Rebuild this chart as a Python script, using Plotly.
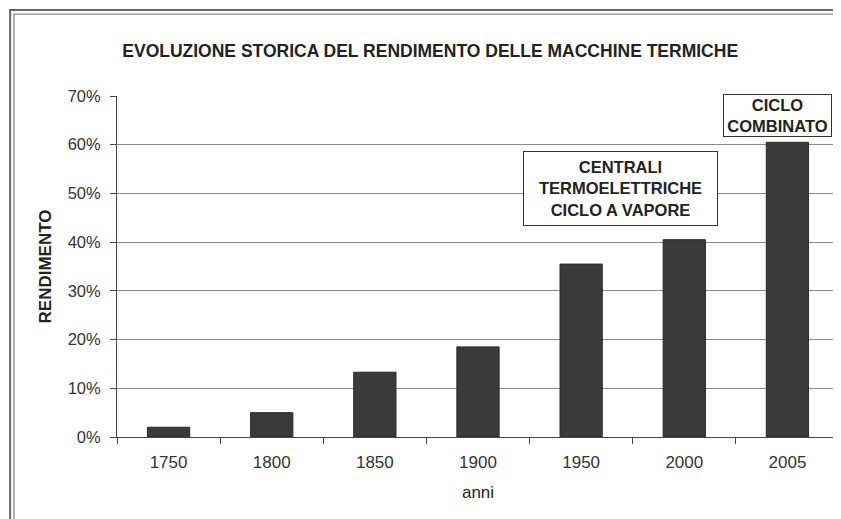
import plotly.graph_objects as go

anni = ["1750", "1800", "1850", "1900", "1950", "2000", "2005"]
rendimento = [0.02, 0.05, 0.133, 0.185, 0.355, 0.405, 0.605]
tick_vals = [0, 0.1, 0.2, 0.3, 0.4, 0.5, 0.6, 0.7]
tick_text = ["0%", "10%", "20%", "30%", "40%", "50%", "60%", "70%"]

font_family = "Liberation Sans, Arial, sans-serif"

fig = go.Figure()
fig.add_trace(go.Bar(
    x=anni, y=rendimento,
    marker=dict(color="#3a3a3a", line=dict(color="#2a2a2a", width=1)),
    hoverinfo="x+y"
))

# outer frame of the chart (double line)
fig.add_shape(type="rect", xref="paper", yref="paper",
              x0=-0.148, x1=1.05, y0=-0.35, y1=1.252,
              line=dict(color="#666666", width=2), fillcolor="rgba(0,0,0,0)",
              layer="below")
fig.add_shape(type="rect", xref="paper", yref="paper",
              x0=-0.1427, x1=1.05, y0=-0.35, y1=1.240,
              line=dict(color="#9a9a9a", width=1.5), fillcolor="rgba(0,0,0,0)",
              layer="below")

fig.add_annotation(
    x=0.697, y=0.729, xref="paper", yref="paper",
    xanchor="center", yanchor="middle",
    text="<b>CENTRALI<br>TERMOELETTRICHE<br>CICLO A VAPORE</b>",
    showarrow=False, align="center",
    font=dict(family=font_family, size=16.5, color="#222222"),
    width=183, height=63,
    bgcolor="white", bordercolor="#333333", borderwidth=1, borderpad=5
)
fig.add_annotation(
    x=0.9155, y=0.944, xref="paper", yref="paper",
    xanchor="center", yanchor="middle",
    text="<b>CICLO<br>COMBINATO</b>",
    showarrow=False, align="center",
    font=dict(family=font_family, size=16.5, color="#222222"),
    width=105,
    bgcolor="white", bordercolor="#333333", borderwidth=1, borderpad=1
)

fig.update_layout(
    width=841, height=519,
    margin=dict(l=109, r=10, t=88, b=90),
    paper_bgcolor="white", plot_bgcolor="white",
    font=dict(family=font_family, color="#333333"),
    showlegend=False,
    bargap=0.59,
    title=dict(
        text="<b>EVOLUZIONE STORICA DEL RENDIMENTO DELLE MACCHINE TERMICHE</b>",
        x=0.502, xanchor="center", y=0.917, yanchor="middle",
        font=dict(family=font_family, size=17.5, color="#222222")
    ),
    xaxis=dict(
        type="category",
        title=dict(text="anni", font=dict(size=17, color="#222222"), standoff=14),
        showline=True, linecolor="#444444", linewidth=1,
        ticks="outside", ticklen=6, tickcolor="#444444",
        tickson="boundaries", tickangle=0, ticklabelstandoff=10,
        tickfont=dict(size=17, color="#333333"),
        showgrid=False, automargin=False
    ),
    yaxis=dict(
        title=dict(text="<b>RENDIMENTO</b>", font=dict(size=17, color="#222222"), standoff=11),
        range=[0, 0.7],
        tickvals=tick_vals, ticktext=tick_text,
        showline=True, linecolor="#444444", linewidth=1,
        ticks="outside", ticklen=6, tickcolor="#444444",
        ticklabelstandoff=6,
        tickfont=dict(size=16.5, color="#333333"),
        showgrid=True, gridcolor="#8a8a8a", gridwidth=1,
        zeroline=False, automargin=False
    )
)

fig.write_html("out.html")
